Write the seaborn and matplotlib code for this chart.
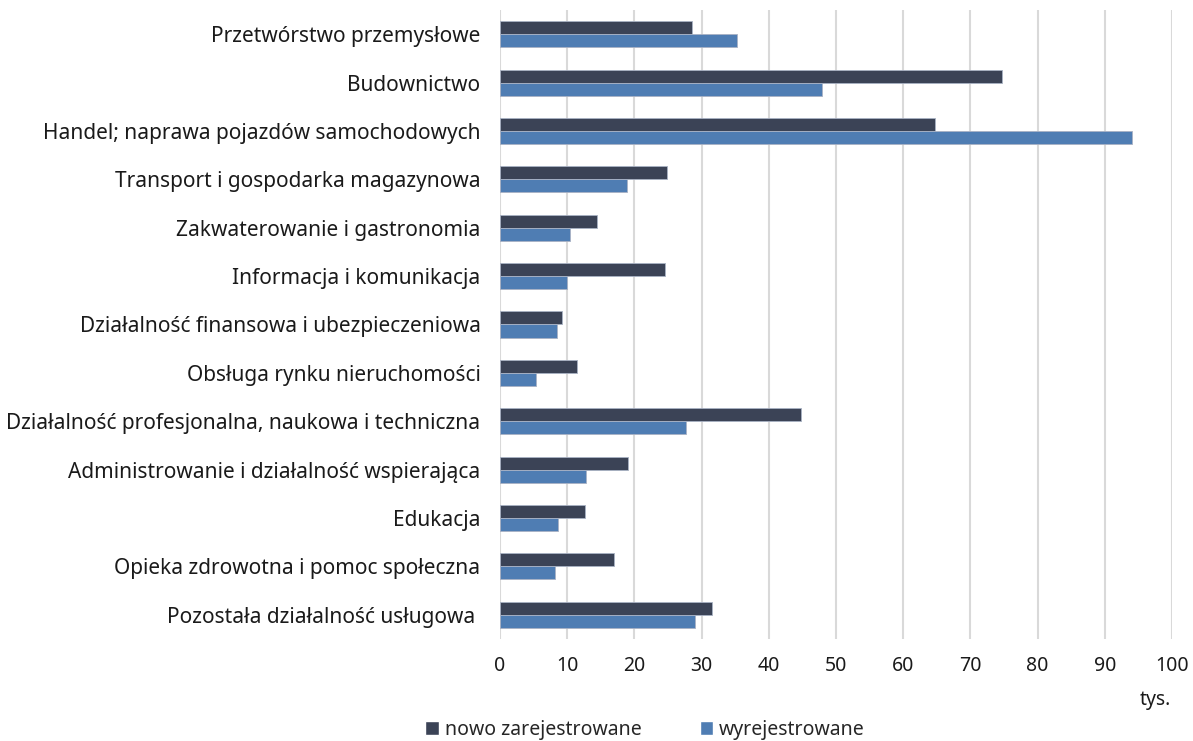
import pandas as pd
import seaborn as sns
from matplotlib import pyplot as plt
from matplotlib.patches import Patch

categories = [
    'Przetwórstwo przemysłowe',
    'Budownictwo',
    'Handel; naprawa pojazdów samochodowych',
    'Transport i gospodarka magazynowa',
    'Zakwaterowanie i gastronomia',
    'Informacja i komunikacja',
    'Działalność finansowa i ubezpieczeniowa',
    'Obsługa rynku nieruchomości',
    'Działalność profesjonalna, naukowa i techniczna',
    'Administrowanie i działalność wspierająca',
    'Edukacja',
    'Opieka zdrowotna i pomoc społeczna',
    'Pozostała działalność usługowa ',
]
nowo = [28.5, 74.7, 64.8, 24.9, 14.4, 24.6, 9.2, 11.5, 44.8, 19.0, 12.6, 17.0, 31.6]
wyrej = [35.3, 47.9, 94.0, 18.9, 10.4, 10.0, 8.5, 5.4, 27.7, 12.8, 8.6, 8.2, 29.0]
series = ['nowo zarejestrowane', 'wyrejestrowane']
colors = ['#3b4356', '#4f7db3']

df = pd.DataFrame({
    'kategoria': categories * 2,
    'wartosc': nowo + wyrej,
    'seria': [series[0]] * len(categories) + [series[1]] * len(categories),
})

sns.set_style('white')
plt.rcParams['font.family'] = ['Noto Sans', 'DejaVu Sans']

fig = plt.figure(figsize=(11.93, 7.41), dpi=100)
ax = fig.add_axes([500 / 1193, 1 - 639 / 741, 672 / 1193, 629 / 741])

sns.barplot(data=df, y='kategoria', x='wartosc', hue='seria', orient='h',
            palette=colors, saturation=1, width=0.54, ax=ax, legend=False,
            edgecolor='#a9b2c4', linewidth=0.6)

ax.set_xlim(0, 100)
ax.set_xticks(range(0, 101, 10))
ax.set_ylim(len(categories) - 0.5, -0.5)
ax.grid(axis='x', color='#d9d9d9', linewidth=1.5)
ax.set_axisbelow(True)
for s in ax.spines.values():
    s.set_visible(False)
ax.set_xlabel('')
ax.set_ylabel('')
ax.tick_params(axis='both', length=0, colors='#1a1a1a')
ax.tick_params(axis='x', pad=12, labelsize=14)
ax.tick_params(axis='y', pad=14, labelsize=15)

fig.text(1155 / 1193, 1 - 700 / 741, 'tys.', fontsize=14, ha='center', va='center', color='#1a1a1a')

handles = [Patch(facecolor=c, label=l) for c, l in zip(colors, series)]
fig.legend(handles=handles, loc='center', bbox_to_anchor=(645 / 1193, 1 - 730 / 741),
           ncol=2, frameon=False, fontsize=14, handlelength=0.7, handleheight=0.7,
           handletextpad=0.3, columnspacing=3.0)

fig.savefig('out.png', dpi=100)
